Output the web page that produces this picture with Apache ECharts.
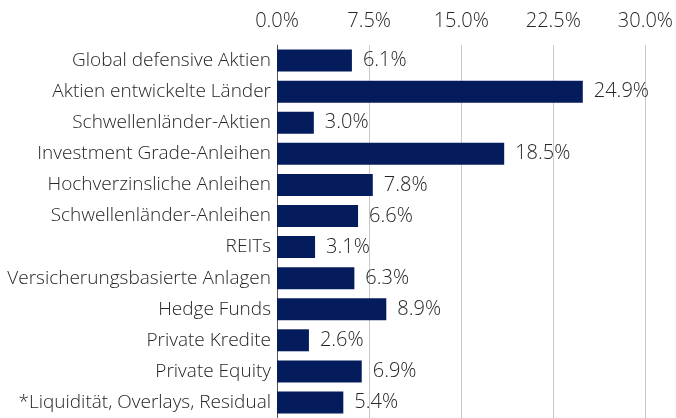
<!DOCTYPE html>
<html>
<head>
<meta charset="utf-8">
<script src="https://cdn.jsdelivr.net/npm/echarts@6/dist/echarts.min.js"></script>
<style>
  html, body { margin: 0; padding: 0; background: #fff; }
  #chart { width: 676px; height: 418px; }
</style>
</head>
<body>
<div id="chart"></div>
<script>
const categories = [
    'Global defensive Aktien',
    'Aktien entwickelte Länder',
    'Schwellenländer-Aktien',
    'Investment Grade-Anleihen',
    'Hochverzinsliche Anleihen',
    'Schwellenländer-Anleihen',
    'REITs',
    'Versicherungsbasierte Anlagen',
    'Hedge Funds',
    'Private Kredite',
    'Private Equity',
    '*Liquidität, Overlays, Residual'
];
const weights = [6.1, 24.9, 3.0, 18.5, 7.8, 6.6, 3.1, 6.3, 8.9, 2.6, 6.9, 5.4];
const ticks = [0, 7.5, 15, 22.5, 30];

const font = '"Open Sans", "Noto Sans", sans-serif';
const textColor = '#262626';
const chart = echarts.init(document.getElementById('chart'));
chart.setOption({
    animation: false,
    grid: {
        left: 277,
        right: 30,
        top: 45,
        bottom: -3,
        containLabel: false
    },
    xAxis: {
        type: 'value',
        position: 'top',
        min: ticks[0],
        max: ticks[ticks.length - 1],
        interval: 7.5,
        axisLine: { show: false },
        axisTick: { show: false },
        axisLabel: {
            margin: 14,
            color: textColor,
            fontFamily: font,
            fontWeight: 300,
            fontSize: 20,
            formatter: v => v.toFixed(1) + '%'
        },
        splitLine: { lineStyle: { color: '#c8c8c8', width: 1 } }
    },
    yAxis: {
        type: 'category',
        inverse: true,
        data: categories,
        axisLine: { show: true, lineStyle: { color: '#555', width: 1 } },
        axisTick: { show: false },
        axisLabel: {
            margin: 6,
            color: textColor,
            fontFamily: font,
            fontWeight: 300,
            fontSize: 19
        }
    },
    series: [{
        type: 'bar',
        data: weights,
        barWidth: 22,
        itemStyle: { color: '#051c5c' },
        label: {
            show: true,
            position: 'right',
            distance: 11,
            color: textColor,
            fontFamily: font,
            fontWeight: 300,
            fontSize: 20,
            formatter: p => p.value.toFixed(1) + '%'
        }
    }]
});
</script>
</body>
</html>
